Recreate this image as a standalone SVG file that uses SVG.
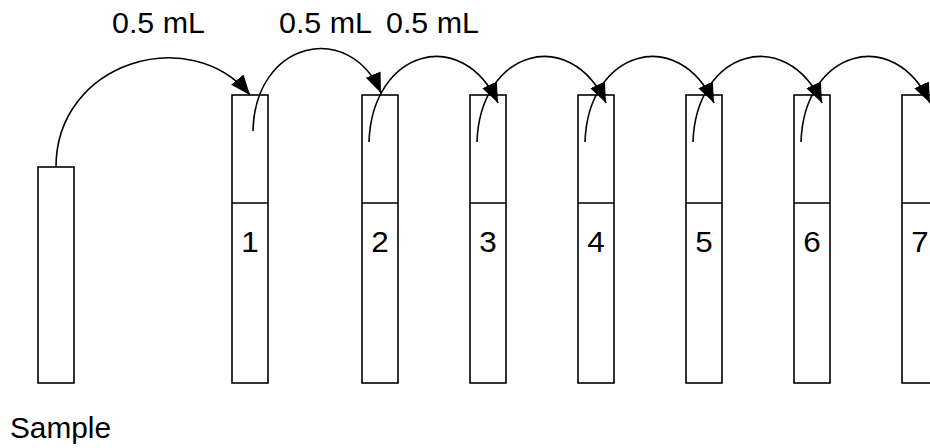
<svg xmlns="http://www.w3.org/2000/svg" width="930" height="448" viewBox="0 0 930 448">
  <style>
    .tube { fill: #ffffff; stroke: #000000; stroke-width: 1.6; }
    .level { stroke: #000000; stroke-width: 1.6; }
    .flow { fill: none; stroke: #000000; stroke-width: 1.6; marker-end: url(#head); }
    .lbl { font-family: "Liberation Sans", Arial, sans-serif; font-size: 29px; fill: #000000; }
  </style>
  <defs>
    <marker id="head" markerUnits="userSpaceOnUse" markerWidth="22" markerHeight="18" refX="20" refY="8" orient="auto">
      <path d="M0,0 L20,8 L0,16 Z" fill="#000000"/>
    </marker>
  </defs>

  <rect width="930" height="448" fill="#ffffff"/>

  <!-- sample tube -->
  <g id="sample">
    <rect class="tube" x="38" y="167" width="36" height="216"/>
    <text class="lbl" x="10" y="438" textLength="101" lengthAdjust="spacingAndGlyphs">Sample</text>
  </g>

  <!-- dilution tubes -->
  <g id="tube1">
    <rect class="tube" x="232" y="95" width="36" height="288"/>
    <line class="level" x1="232" y1="203" x2="268" y2="203"/>
    <text class="lbl" x="241.3" y="252" textLength="17.5" lengthAdjust="spacingAndGlyphs">1</text>
  </g>
  <g id="tube2">
    <rect class="tube" x="362" y="95" width="36" height="288"/>
    <line class="level" x1="362" y1="203" x2="398" y2="203"/>
    <text class="lbl" x="371.3" y="252" textLength="17.5" lengthAdjust="spacingAndGlyphs">2</text>
  </g>
  <g id="tube3">
    <rect class="tube" x="470" y="95" width="36" height="288"/>
    <line class="level" x1="470" y1="203" x2="506" y2="203"/>
    <text class="lbl" x="479.3" y="252" textLength="17.5" lengthAdjust="spacingAndGlyphs">3</text>
  </g>
  <g id="tube4">
    <rect class="tube" x="578" y="95" width="36" height="288"/>
    <line class="level" x1="578" y1="203" x2="614" y2="203"/>
    <text class="lbl" x="587.3" y="252" textLength="17.5" lengthAdjust="spacingAndGlyphs">4</text>
  </g>
  <g id="tube5">
    <rect class="tube" x="686" y="95" width="36" height="288"/>
    <line class="level" x1="686" y1="203" x2="722" y2="203"/>
    <text class="lbl" x="695.3" y="252" textLength="17.5" lengthAdjust="spacingAndGlyphs">5</text>
  </g>
  <g id="tube6">
    <rect class="tube" x="794" y="95" width="36" height="288"/>
    <line class="level" x1="794" y1="203" x2="830" y2="203"/>
    <text class="lbl" x="803.3" y="252" textLength="17.5" lengthAdjust="spacingAndGlyphs">6</text>
  </g>
  <g id="tube7">
    <rect class="tube" x="902" y="95" width="36" height="288"/>
    <line class="level" x1="902" y1="203" x2="938" y2="203"/>
    <text class="lbl" x="911.3" y="252" textLength="17.5" lengthAdjust="spacingAndGlyphs">7</text>
  </g>

  <!-- transfer volumes -->
  <g id="volumes">
    <text class="lbl" x="112" y="33" textLength="93" lengthAdjust="spacingAndGlyphs">0.5 mL</text>
    <text class="lbl" x="279" y="33" textLength="93" lengthAdjust="spacingAndGlyphs">0.5 mL</text>
    <text class="lbl" x="386" y="33" textLength="93" lengthAdjust="spacingAndGlyphs">0.5 mL</text>
  </g>

  <!-- transfer arcs -->
  <g id="connectors">
    <path class="flow" d="M56,167 C56,62 190,22 250,95"/>
    <path class="flow" d="M253,131 C255,40 350,20 381,93"/>
    <path class="flow" d="M369,142 C372,50 462,25 498,103"/>
    <path class="flow" d="M477,142 C480,50 570,25 606,103"/>
    <path class="flow" d="M585,142 C588,50 678,25 714,103"/>
    <path class="flow" d="M693,142 C696,50 786,25 822,103"/>
    <path class="flow" d="M801,142 C804,50 894,25 930,103"/>
  </g>
</svg>
